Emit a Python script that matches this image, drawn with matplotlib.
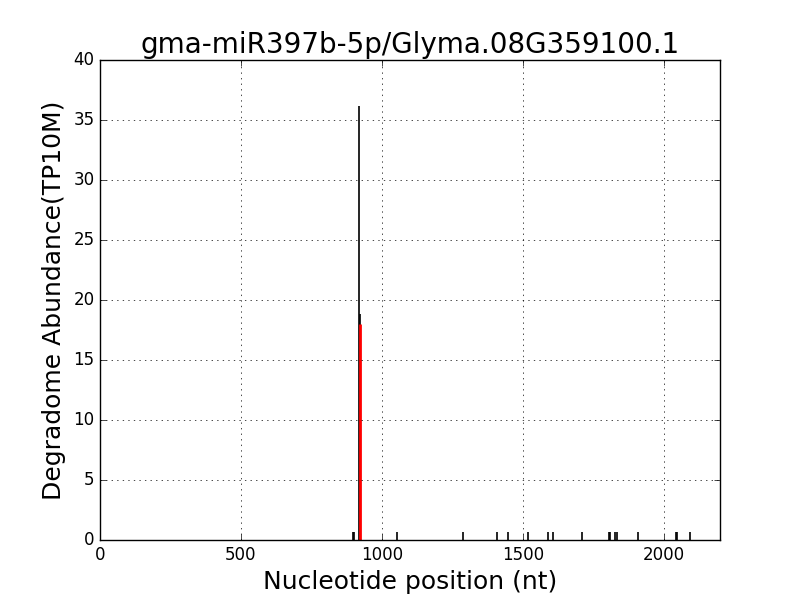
import matplotlib
matplotlib.use('Agg')
import matplotlib.pyplot as plt

# degradome read positions (nt) and abundance (TP10M)
positions = [898, 901, 919, 921, 1053, 1289, 1410, 1449, 1517, 1588, 1608, 1709,
             1805, 1809, 1827, 1836, 1910, 2045, 2049, 2094]
abundance = [0.7, 0.7, 36.2, 18.8, 0.7, 0.7, 0.7, 0.7, 0.7, 0.7, 0.7, 0.7,
             0.7, 0.7, 0.7, 0.7, 0.7, 0.7, 0.7, 0.7]

# cleavage site (miRNA target)
site_pos = [921]
site_val = [18.0]

plt.style.use('classic')
fig, ax = plt.subplots(figsize=(8, 6), dpi=100)
fig.patch.set_facecolor('white')

ax.vlines(positions, 0, abundance, colors='black', linewidth=1.2)
ax.vlines(site_pos, 0, site_val, colors='red', linewidth=2)

ax.set_xlim(0, 2200)
ax.set_ylim(0, 40)
ax.set_xticks([0, 500, 1000, 1500, 2000])
ax.set_yticks(range(0, 41, 5))
ax.grid(True)
ax.set_title('gma-miR397b-5p/Glyma.08G359100.1', fontsize=20)
ax.set_xlabel('Nucleotide position (nt)', fontsize=18)
ax.set_ylabel('Degradome Abundance(TP10M)', fontsize=18)

fig.subplots_adjust(left=0.125, right=0.9, bottom=0.1, top=0.9)
fig.savefig('out.png')
